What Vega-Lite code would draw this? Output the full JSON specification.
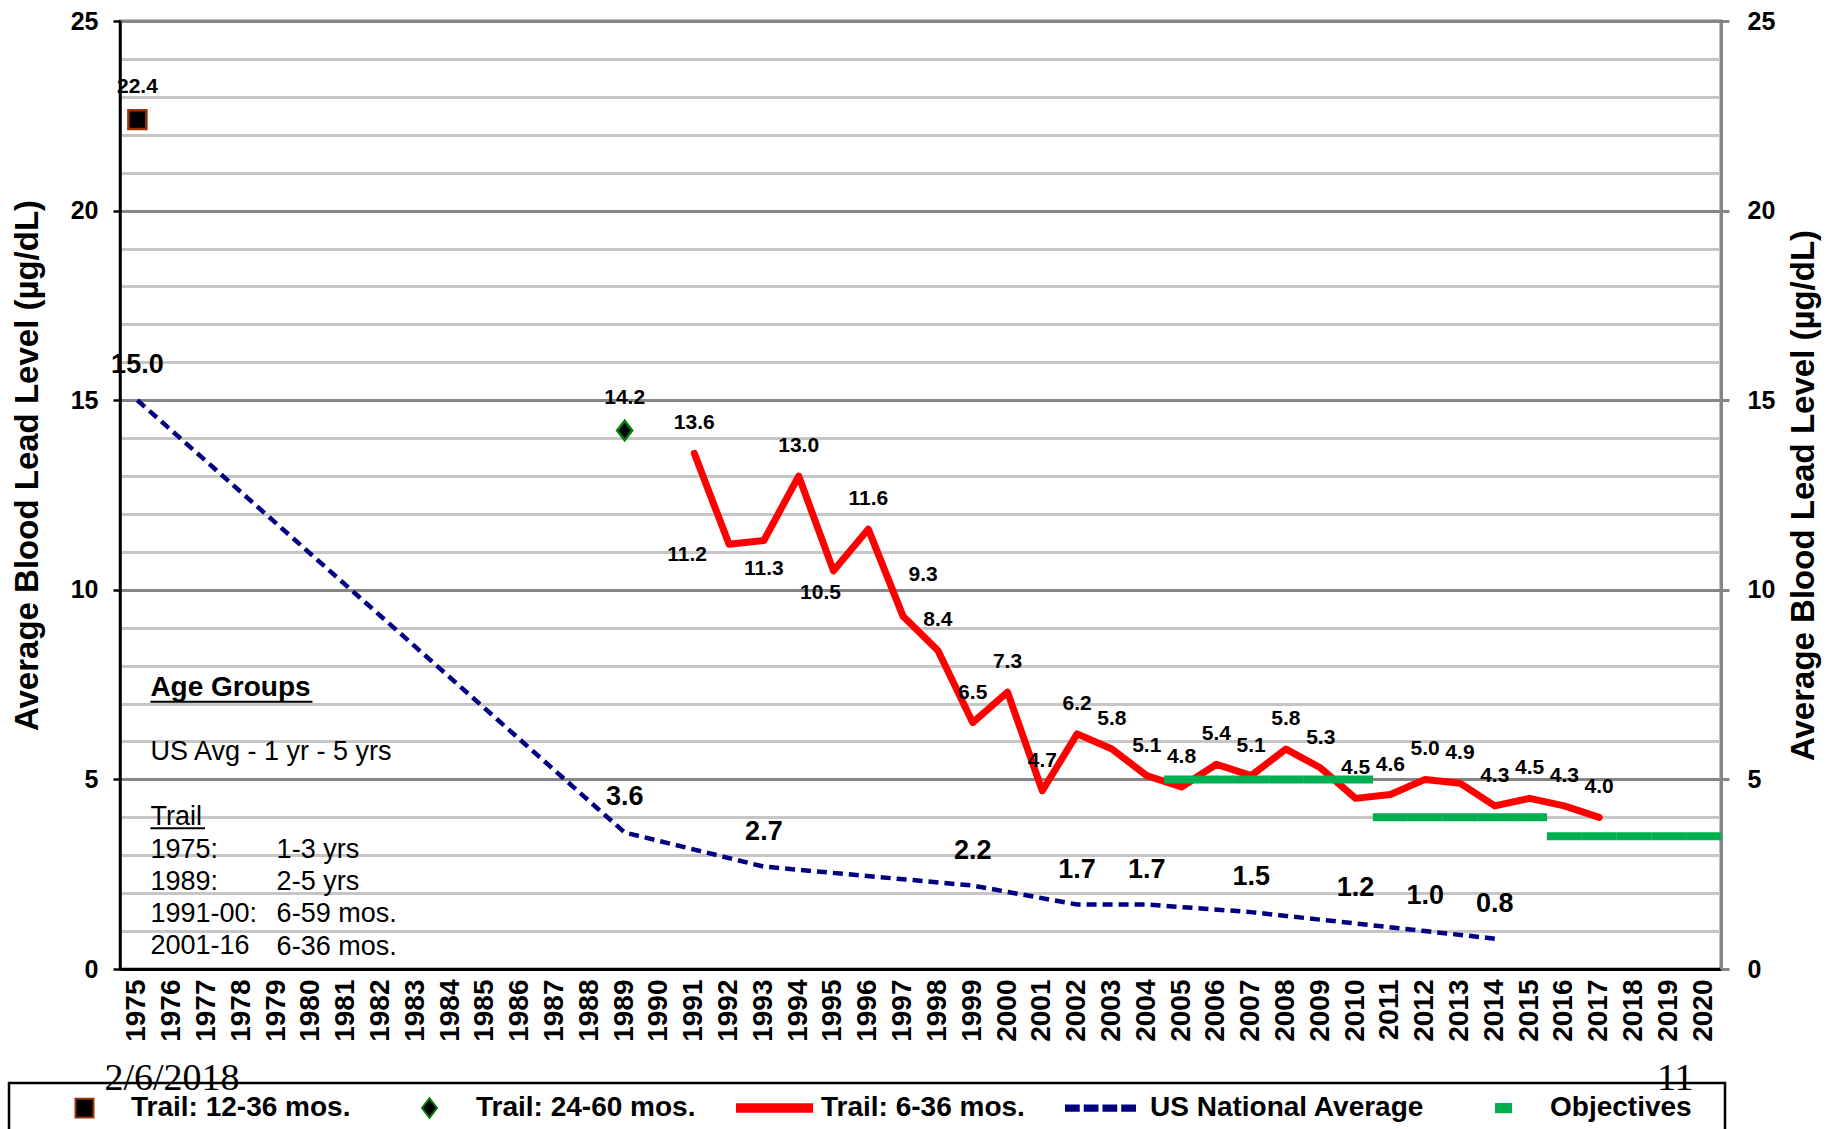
{
  "$schema": "https://vega.github.io/schema/vega-lite/v6.json",
  "width": 1601,
  "height": 948,
  "autosize": {"type": "none"},
  "padding": {"left": 120, "top": 21, "right": 111, "bottom": 160},
  "background": "white",
  "config": {
    "view": {"stroke": "#000000", "strokeWidth": 2.5},
    "font": "Liberation Sans",
    "legend": {"strokeWidth": 2.5}
  },
  "datasets": {
    "red": [
      {"year": 1991, "value": 13.6}, {"year": 1992, "value": 11.2}, {"year": 1993, "value": 11.3},
      {"year": 1994, "value": 13.0}, {"year": 1995, "value": 10.5}, {"year": 1996, "value": 11.6},
      {"year": 1997, "value": 9.3}, {"year": 1998, "value": 8.4}, {"year": 1999, "value": 6.5},
      {"year": 2000, "value": 7.3}, {"year": 2001, "value": 4.7}, {"year": 2002, "value": 6.2},
      {"year": 2003, "value": 5.8}, {"year": 2004, "value": 5.1}, {"year": 2005, "value": 4.8},
      {"year": 2006, "value": 5.4}, {"year": 2007, "value": 5.1}, {"year": 2008, "value": 5.8},
      {"year": 2009, "value": 5.3}, {"year": 2010, "value": 4.5}, {"year": 2011, "value": 4.6},
      {"year": 2012, "value": 5.0}, {"year": 2013, "value": 4.9}, {"year": 2014, "value": 4.3},
      {"year": 2015, "value": 4.5}, {"year": 2016, "value": 4.3}, {"year": 2017, "value": 4.0}
    ],
    "blue": [
      {"year": 1975, "value": 15.0}, {"year": 1989, "value": 3.6}, {"year": 1993, "value": 2.7},
      {"year": 1999, "value": 2.2}, {"year": 2002, "value": 1.7}, {"year": 2004, "value": 1.7},
      {"year": 2007, "value": 1.5}, {"year": 2010, "value": 1.2}, {"year": 2012, "value": 1.0},
      {"year": 2014, "value": 0.8}
    ],
    "trail": [
      {"year": 1975, "value": 22.4, "series": "Trail: 12-36 mos."},
      {"year": 1989, "value": 14.2, "series": "Trail: 24-60 mos."}
    ],
    "obj": [
      {"year": 2005, "value": 5.0}, {"year": 2006, "value": 5.0}, {"year": 2007, "value": 5.0},
      {"year": 2008, "value": 5.0}, {"year": 2009, "value": 5.0}, {"year": 2010, "value": 5.0},
      {"year": 2011, "value": 4.0}, {"year": 2012, "value": 4.0}, {"year": 2013, "value": 4.0},
      {"year": 2014, "value": 4.0}, {"year": 2015, "value": 4.0},
      {"year": 2016, "value": 3.5}, {"year": 2017, "value": 3.5}, {"year": 2018, "value": 3.5},
      {"year": 2019, "value": 3.5}, {"year": 2020, "value": 3.5}
    ]
  },
  "layer": [
    {
      "data": {"name": "blue"},
      "mark": {"type": "line", "color": "#000080", "strokeWidth": 4.5, "strokeDash": [10, 6]},
      "encoding": {
        "x": {
          "field": "year", "type": "ordinal", "title": null,
          "scale": {
            "type": "band", "paddingInner": 0, "paddingOuter": 0,
            "domain": [1975,1976,1977,1978,1979,1980,1981,1982,1983,1984,1985,1986,1987,1988,1989,1990,1991,1992,1993,1994,1995,1996,1997,1998,1999,2000,2001,2002,2003,2004,2005,2006,2007,2008,2009,2010,2011,2012,2013,2014,2015,2016,2017,2018,2019,2020]
          },
          "axis": {
            "labelAngle": 270, "labelFont": "Liberation Sans", "labelFontSize": 28, "labelFontWeight": "bold",
            "labelColor": "#000000", "labelPadding": 10, "ticks": false, "domainColor": "#000000",
            "domainWidth": 3, "grid": false, "labelOverlap": false, "title": null
          }
        },
        "y": {
          "field": "value", "type": "quantitative", "title": "Average Blood Lead Level (µg/dL)",
          "scale": {"domain": [0, 25], "nice": false, "zero": true},
          "axis": {
            "orient": "left",
            "values": [0,1,2,3,4,5,6,7,8,9,10,11,12,13,14,15,16,17,18,19,20,21,22,23,24,25],
            "grid": true,
            "gridColor": {"condition": {"test": "datum.value % 5 === 0", "value": "#868686"}, "value": "#c6c6c6"},
            "gridWidth": 3,
            "domainColor": "#000000", "domainWidth": 2.5,
            "tickColor": {"condition": {"test": "datum.value % 5 === 0", "value": "#000000"}, "value": "transparent"},
            "tickSize": 7, "tickWidth": 2.5,
            "labelExpr": "datum.value % 5 === 0 ? datum.label : ''",
            "labelOverlap": false, "labelFlush": false,
            "labelFont": "Liberation Sans", "labelFontSize": 25, "labelFontWeight": "bold",
            "labelColor": "#000000", "labelPadding": 15,
            "titleFont": "Liberation Sans", "titleFontSize": 33, "titleFontWeight": "bold", "titleColor": "#000000",
            "titleAngle": 270, "titleX": -93, "titleY": 444, "titleAlign": "center", "titleBaseline": "middle"
          }
        }
      }
    },
    {
      "data": {"name": "red"},
      "mark": {"type": "line", "color": "#ff0000", "strokeWidth": 7, "strokeJoin": "round", "strokeCap": "round"},
      "encoding": {
        "x": {"field": "year", "type": "ordinal", "title": null},
        "y": {
          "field": "value", "type": "quantitative", "title": "Average Blood Lead Level (µg/dL)",
          "axis": {
            "orient": "right", "values": [0, 5, 10, 15, 20, 25], "grid": false,
            "domainColor": "#868686", "domainWidth": 3, "tickColor": "#868686", "tickWidth": 3, "tickSize": 8,
            "labelPadding": 18, "labelFlush": false, "labelOverlap": false,
            "labelFont": "Liberation Sans", "labelFontSize": 25, "labelFontWeight": "bold", "labelColor": "#000000",
            "titleFont": "Liberation Sans", "titleFontSize": 33, "titleFontWeight": "bold", "titleColor": "#000000",
            "titleAngle": 270, "titleX": 82, "titleY": 474, "titleAlign": "center", "titleBaseline": "middle"
          }
        }
      }
    },
    {
      "data": {"name": "obj"},
      "mark": {"type": "tick", "orient": "horizontal", "color": "#00b050", "thickness": 8, "size": 35, "opacity": 1},
      "encoding": {
        "x": {"field": "year", "type": "ordinal", "title": null},
        "y": {"field": "value", "type": "quantitative", "axis": null}
      }
    },
    {
      "data": {"name": "blue"},
      "mark": {"type": "text", "dy": -35, "fontSize": 27, "fontWeight": "bold", "font": "Liberation Sans", "color": "#000000", "baseline": "middle"},
      "encoding": {
        "x": {"field": "year", "type": "ordinal", "title": null},
        "y": {"field": "value", "type": "quantitative", "axis": null},
        "text": {"field": "value", "type": "quantitative", "format": ".1f"}
      }
    },
    {
      "data": {"name": "red"},
      "transform": [{"filter": {"not": {"field": "year", "oneOf": [1992, 1993, 1995, 1997]}}}],
      "mark": {"type": "text", "dy": -30, "fontSize": 21, "fontWeight": "bold", "font": "Liberation Sans", "color": "#000000", "baseline": "middle"},
      "encoding": {
        "x": {"field": "year", "type": "ordinal", "title": null},
        "y": {"field": "value", "type": "quantitative", "axis": null},
        "text": {"field": "value", "type": "quantitative", "format": ".1f"}
      }
    },
    {
      "data": {"name": "red"},
      "transform": [{"filter": {"field": "year", "equal": 1992}}],
      "mark": {"type": "text", "dx": -42, "dy": 11, "fontSize": 21, "fontWeight": "bold", "font": "Liberation Sans", "color": "#000000", "baseline": "middle"},
      "encoding": {
        "x": {"field": "year", "type": "ordinal", "title": null},
        "y": {"field": "value", "type": "quantitative", "axis": null},
        "text": {"field": "value", "type": "quantitative", "format": ".1f"}
      }
    },
    {
      "data": {"name": "red"},
      "transform": [{"filter": {"field": "year", "equal": 1993}}],
      "mark": {"type": "text", "dx": 0, "dy": 28, "fontSize": 21, "fontWeight": "bold", "font": "Liberation Sans", "color": "#000000", "baseline": "middle"},
      "encoding": {
        "x": {"field": "year", "type": "ordinal", "title": null},
        "y": {"field": "value", "type": "quantitative", "axis": null},
        "text": {"field": "value", "type": "quantitative", "format": ".1f"}
      }
    },
    {
      "data": {"name": "red"},
      "transform": [{"filter": {"field": "year", "equal": 1995}}],
      "mark": {"type": "text", "dx": -13, "dy": 22, "fontSize": 21, "fontWeight": "bold", "font": "Liberation Sans", "color": "#000000", "baseline": "middle"},
      "encoding": {
        "x": {"field": "year", "type": "ordinal", "title": null},
        "y": {"field": "value", "type": "quantitative", "axis": null},
        "text": {"field": "value", "type": "quantitative", "format": ".1f"}
      }
    },
    {
      "data": {"name": "red"},
      "transform": [{"filter": {"field": "year", "equal": 1997}}],
      "mark": {"type": "text", "dx": 20, "dy": -41, "fontSize": 21, "fontWeight": "bold", "font": "Liberation Sans", "color": "#000000", "baseline": "middle"},
      "encoding": {
        "x": {"field": "year", "type": "ordinal", "title": null},
        "y": {"field": "value", "type": "quantitative", "axis": null},
        "text": {"field": "value", "type": "quantitative", "format": ".1f"}
      }
    },
    {
      "data": {"name": "trail"},
      "mark": {"type": "text", "dy": -33, "fontSize": 21, "fontWeight": "bold", "font": "Liberation Sans", "color": "#000000", "baseline": "middle"},
      "encoding": {
        "x": {"field": "year", "type": "ordinal", "title": null},
        "y": {"field": "value", "type": "quantitative", "axis": null},
        "text": {"field": "value", "type": "quantitative", "format": ".1f"}
      }
    },
    {
      "data": {"name": "trail"},
      "mark": {"type": "point", "filled": true, "size": 5625, "strokeWidth": 2.5, "opacity": 1},
      "encoding": {
        "x": {"field": "year", "type": "ordinal", "title": null},
        "y": {"field": "value", "type": "quantitative", "axis": null},
        "fill": {
          "field": "series", "type": "nominal",
          "scale": {
            "domain": ["Trail: 12-36 mos.", "Trail: 24-60 mos.", "Trail: 6-36 mos.", "US National Average", "Objectives"],
            "range": ["#000000", "#000000", "#ff0000", "#000080", "#00b050"]
          },
          "legend": {
            "orient": "none", "legendX": -111, "legendY": 1062, "direction": "horizontal",
            "title": null, "padding": 10, "strokeColor": "#000000",
            "symbolSize": 5625, "symbolStrokeWidth": 2, "clipHeight": 30,
            "columnPadding": 13, "labelOffset": 8, "symbolOffset": 27,
            "labelFont": "Liberation Sans", "labelFontSize": 28, "labelFontWeight": "bold",
            "labelColor": "#000000", "labelLimit": 600, "symbolOpacity": 1,
            "labelExpr": "datum.label == 'Objectives' ? 'Objectives   \u200b' : datum.label"
          }
        },
        "stroke": {
          "field": "series", "type": "nominal",
          "scale": {
            "domain": ["Trail: 12-36 mos.", "Trail: 24-60 mos.", "Trail: 6-36 mos.", "US National Average", "Objectives"],
            "range": ["#993300", "#008000", "#ff0000", "#000080", "#00b050"]
          }
        },
        "shape": {
          "field": "series", "type": "nominal",
          "scale": {
            "domain": ["Trail: 12-36 mos.", "Trail: 24-60 mos.", "Trail: 6-36 mos.", "US National Average", "Objectives"],
            "range": [
              "M-0.24,-0.25H0.24V0.25H-0.24Z",
              "M0,-0.26L0.2,0L0,0.26L-0.2,0Z",
              "M-1,-0.1H1V0.1H-1Z",
              "M-1,-0.07H-0.66V0.07H-1Z M-0.5,-0.07H-0.16V0.07H-0.5Z M0,-0.07H0.34V0.07H0Z M0.5,-0.07H0.84V0.07H0.5Z",
              "M-0.2,-0.11H0.2V0.11H-0.2Z"
            ]
          }
        }
      }
    },
    {
      "data": {"values": [{}]},
      "mark": {"type": "text", "text": "Age Groups", "font": "Liberation Sans", "fontSize": 28, "fontWeight": "bold", "align": "left", "baseline": "middle", "dx": 13, "color": "#000000"},
      "encoding": {
        "x": {"datum": 1975, "type": "ordinal"},
        "y": {"datum": 7.4, "type": "quantitative", "axis": null}
      }
    },
    {
      "data": {"values": [{}]},
      "mark": {"type": "rule", "xOffset": 13, "x2Offset": 1, "strokeWidth": 2, "color": "#000000"},
      "encoding": {
        "x": {"datum": 1975, "type": "ordinal"},
        "x2": {"datum": 1980},
        "y": {"datum": 7.05, "type": "quantitative", "axis": null}
      }
    },
    {
      "data": {"values": [{}]},
      "mark": {"type": "text", "text": "US Avg - 1 yr - 5 yrs", "font": "Liberation Sans", "fontSize": 27, "align": "left", "baseline": "alphabetic", "dx": 13, "color": "#000000"},
      "encoding": {
        "x": {"datum": 1975, "type": "ordinal"},
        "y": {"datum": 5.5, "type": "quantitative", "axis": null}
      }
    },
    {
      "data": {"values": [{}]},
      "mark": {"type": "text", "text": ["Trail", "1975:", "1989:", "1991-00:", "2001-16"], "lineHeight": 32.3, "font": "Liberation Sans", "fontSize": 27, "align": "left", "baseline": "alphabetic", "dx": 13, "color": "#000000"},
      "encoding": {
        "x": {"datum": 1975, "type": "ordinal"},
        "y": {"datum": 3.79, "type": "quantitative", "axis": null}
      }
    },
    {
      "data": {"values": [{}]},
      "mark": {"type": "rule", "xOffset": 13, "x2Offset": -2, "strokeWidth": 2, "color": "#000000"},
      "encoding": {
        "x": {"datum": 1975, "type": "ordinal"},
        "x2": {"datum": 1977},
        "y": {"datum": 3.71, "type": "quantitative", "axis": null}
      }
    },
    {
      "data": {"values": [{}]},
      "mark": {"type": "text", "text": ["1-3 yrs", "2-5 yrs", "6-59 mos.", "6-36 mos."], "lineHeight": 32.3, "font": "Liberation Sans", "fontSize": 27, "align": "left", "baseline": "alphabetic", "dx": 0, "color": "#000000"},
      "encoding": {
        "x": {"datum": 1979, "type": "ordinal"},
        "y": {"datum": 2.93, "type": "quantitative", "axis": null}
      }
    },
    {
      "data": {"values": [{}]},
      "mark": {"type": "text", "text": "2/6/2018", "font": "Liberation Serif", "fontSize": 38, "align": "left", "baseline": "alphabetic", "dx": -33, "color": "#000000"},
      "encoding": {
        "x": {"datum": 1975, "type": "ordinal"},
        "y": {"datum": -3.19, "type": "quantitative", "axis": null}
      }
    },
    {
      "data": {"values": [{}]},
      "mark": {"type": "text", "text": "11", "font": "Liberation Serif", "fontSize": 38, "align": "right", "baseline": "alphabetic", "dx": -10, "color": "#000000"},
      "encoding": {
        "x": {"datum": 2020, "type": "ordinal"},
        "y": {"datum": -3.19, "type": "quantitative", "axis": null}
      }
    }
  ],
  "resolve": {"axis": {"y": "independent"}}
}
